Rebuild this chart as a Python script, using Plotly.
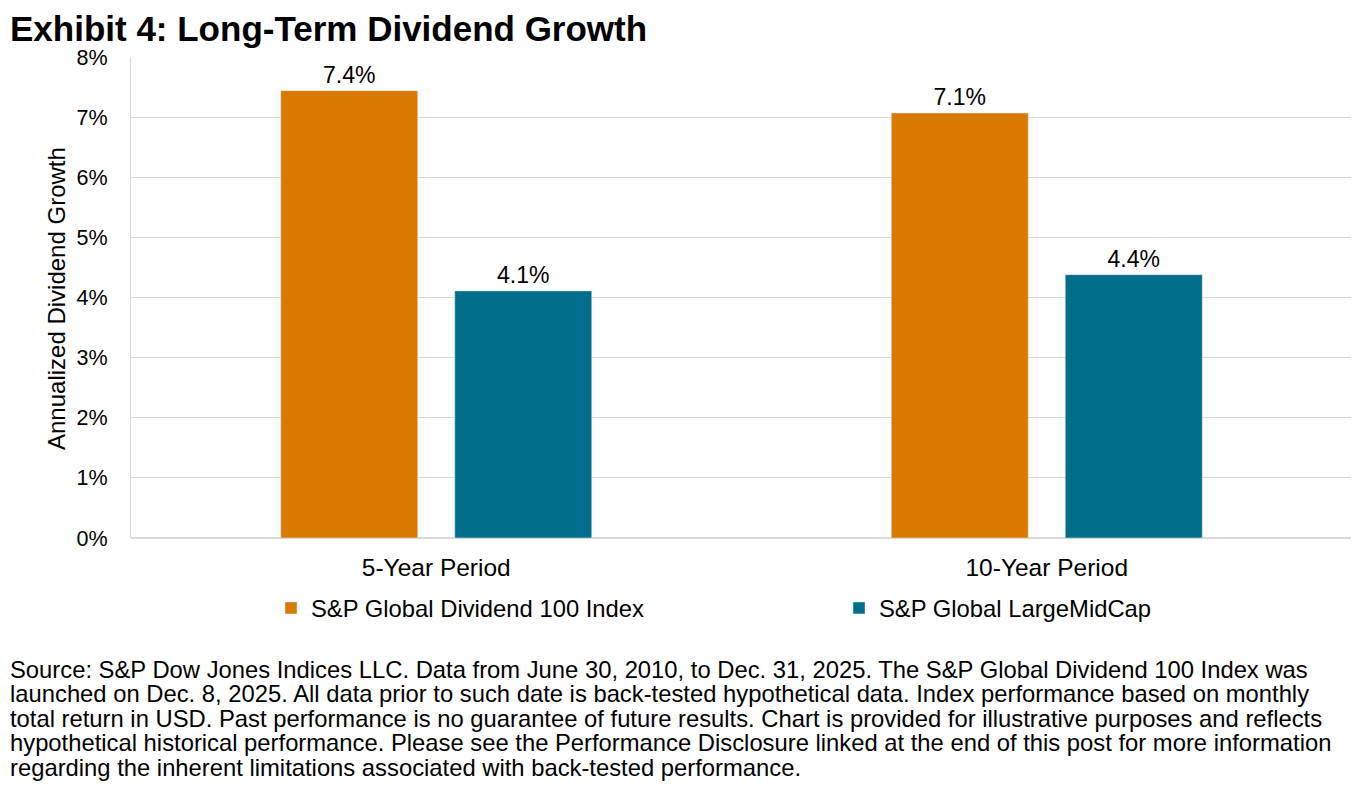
import plotly.graph_objects as go

categories = ["5-Year Period", "10-Year Period"]
series_names = ["S&P Global Dividend 100 Index", "S&P Global LargeMidCap"]
dividend100 = [7.44, 7.07]
largemidcap = [4.11, 4.38]
y_ticks = [0, 1, 2, 3, 4, 5, 6, 7, 8]
y_tick_labels = ["0%", "1%", "2%", "3%", "4%", "5%", "6%", "7%", "8%"]
title_text = "Exhibit 4: Long-Term Dividend Growth"
y_title = "Annualized Dividend Growth"
source_lines = [
    "Source: S&P Dow Jones Indices LLC. Data from June 30, 2010, to Dec. 31, 2025. The S&P Global Dividend 100 Index was",
    "launched on Dec. 8, 2025. All data prior to such date is back-tested hypothetical data. Index performance based on monthly",
    "total return in USD. Past performance is no guarantee of future results. Chart is provided for illustrative purposes and reflects",
    "hypothetical historical performance. Please see the Performance Disclosure linked at the end of this post for more information",
    "regarding the inherent limitations associated with back-tested performance.",
]

FONT = "Liberation Sans, Arial, sans-serif"
colors = ["#D97A00", "#006E8A"]

# page-pixel helpers (page has an 8px body margin)
PL, PR, PT, PB = 131, 1352, 57, 538
def px(x):
    return (x - PL) / (PR - PL)
def py(y):
    return (PB - y) / (PB - PT)

fig = go.Figure()
for i, (name, vals, col) in enumerate(zip(series_names, [dividend100, largemidcap], colors)):
    fig.add_trace(go.Bar(
        x=categories, y=vals, name=name, marker_color=col,
        text=[f"{v:.1f}%" for v in vals], textposition="outside",
        textfont=dict(size=23, color="#000000", family=FONT),
        cliponaxis=False, legend="legend" if i == 0 else "legend2",
    ))

annotations = [
    dict(text=f"<b>{title_text}</b>", xref="paper", yref="paper", x=px(8), y=py(28),
         xanchor="left", yanchor="middle", showarrow=False,
         font=dict(size=35, family=FONT, color="#000000")),
    dict(text=y_title, xref="paper", yref="paper", x=px(56), y=py(299),
         xanchor="center", yanchor="middle", showarrow=False, textangle=-90,
         font=dict(size=24, family=FONT, color="#000000")),
]
for i, line in enumerate(source_lines):
    annotations.append(dict(
        text=line, xref="paper", yref="paper",
        x=px(8), y=py(669 + i * 24.5),
        xanchor="left", yanchor="middle", showarrow=False,
        font=dict(size=23.8, family=FONT, color="#000000"),
    ))

legend_common = dict(orientation="h", yanchor="middle", xanchor="left",
                     font=dict(size=23.8, family=FONT, color="#000000"),
                     bgcolor="rgba(0,0,0,0)")
fig.update_layout(
    width=1351, height=782,
    margin=dict(l=123, r=7, t=49, b=252),
    paper_bgcolor="white", plot_bgcolor="white",
    barmode="group", bargap=0.43, bargroupgap=0.2126,
    font=dict(family=FONT, size=20, color="#000000"),
    showlegend=True,
    legend=dict(x=px(271), y=py(608), **legend_common),
    legend2=dict(x=px(839), y=py(608), **legend_common),
    annotations=annotations,
    xaxis=dict(showline=False, ticks="", tickfont=dict(size=24.5), ticklabelstandoff=12),
    yaxis=dict(range=[0, 8], tickvals=y_ticks, ticktext=y_tick_labels,
               showgrid=True, gridcolor="#D9D9D9", gridwidth=1.2,
               showline=True, linecolor="#D9D9D9", linewidth=1.2,
               zeroline=True, zerolinecolor="#D9D9D9", zerolinewidth=1.5,
               ticks="", tickfont=dict(size=21.5), ticklabelstandoff=18),
)

fig.write_html("out.html")
